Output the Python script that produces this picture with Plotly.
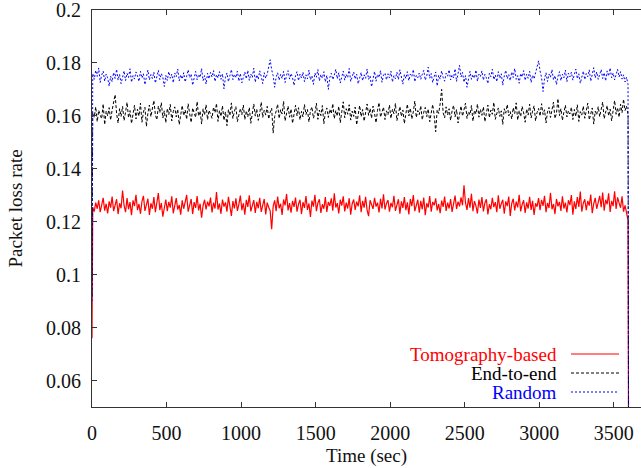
import plotly.graph_objects as go

# ---------------- data ----------------
times = [0] + list(range(5, 3600, 10)) + [3600]

tomography = [0.076,
    0.1255,0.1238,0.1272,0.1249,0.1281,0.1236,0.1264,0.1290,0.1242,0.1268,0.1231,0.1277,0.1253,0.1295,0.1240,0.1262,0.1285,0.1229,0.1270,0.1251,
    0.1318,0.1262,0.1236,0.1289,0.1247,0.1274,0.1225,0.1281,0.1259,0.1302,0.1244,0.1267,0.1230,0.1276,0.1298,0.1241,0.1263,0.1287,0.1226,0.1270,
    0.1249,0.1293,0.1236,0.1265,0.1308,0.1244,0.1271,0.1219,0.1262,0.1284,0.1240,0.1275,0.1253,0.1296,0.1232,0.1268,0.1289,0.1246,0.1263,0.1227,
    0.1281,0.1249,0.1270,0.1301,0.1238,0.1265,0.1286,0.1229,0.1274,0.1252,0.1297,0.1243,0.1268,0.1215,0.1261,0.1283,0.1247,0.1276,0.1258,0.1291,
    0.1235,0.1272,0.1250,0.1312,0.1246,0.1269,0.1230,0.1284,0.1257,0.1273,0.1238,0.1294,0.1263,0.1222,0.1278,0.1250,0.1288,0.1241,0.1266,0.1299,
    0.1244,0.1270,0.1227,0.1283,0.1256,0.1300,0.1239,0.1267,0.1282,0.1233,0.1275,0.1251,0.1290,0.1237,0.1264,0.1286,0.1228,0.1272,0.1255,0.1241,
    0.1172,0.1258,0.1281,0.1240,0.1295,0.1251,0.1268,0.1226,0.1284,0.1262,0.1305,0.1243,0.1270,0.1234,0.1279,0.1256,0.1291,0.1238,0.1266,0.1283,
    0.1229,0.1274,0.1252,0.1297,0.1245,0.1269,0.1218,0.1280,0.1257,0.1302,0.1240,0.1271,0.1285,0.1233,0.1266,0.1249,0.1293,0.1237,0.1275,0.1260,
    0.1288,0.1242,0.1307,0.1254,0.1270,0.1231,0.1283,0.1261,0.1296,0.1239,0.1272,0.1250,0.1289,0.1227,0.1268,0.1284,0.1245,0.1276,0.1258,0.1300,
    0.1236,0.1279,0.1253,0.1294,0.1244,0.1221,0.1281,0.1263,0.1248,0.1290,0.1257,0.1272,0.1235,0.1287,0.1250,0.1304,0.1246,0.1269,0.1282,0.1238,
    0.1271,0.1255,0.1298,0.1241,0.1266,0.1285,0.1230,0.1277,0.1252,0.1293,0.1244,0.1273,0.1228,0.1286,0.1259,0.1301,0.1240,0.1268,0.1283,0.1234,
    0.1279,0.1247,0.1291,0.1225,0.1270,0.1254,0.1297,0.1238,0.1275,0.1262,0.1288,0.1243,0.1267,0.1232,0.1280,0.1256,0.1295,0.1241,0.1272,0.1250,
    0.1286,0.1237,0.1270,0.1299,0.1248,0.1276,0.1258,0.1292,0.1262,0.1338,0.1271,0.1245,0.1289,0.1253,0.1306,0.1240,0.1278,0.1260,0.1231,0.1284,
    0.1252,0.1293,0.1239,0.1271,0.1285,0.1228,0.1266,0.1247,0.1290,0.1255,0.1274,0.1236,0.1300,0.1249,0.1268,0.1283,0.1230,0.1277,0.1259,0.1295,
    0.1222,0.1269,0.1287,0.1243,0.1276,0.1254,0.1302,0.1239,0.1265,0.1281,0.1233,0.1273,0.1250,0.1294,0.1245,0.1279,0.1226,0.1270,0.1257,0.1289,
    0.1244,0.1283,0.1260,0.1298,0.1236,0.1271,0.1252,0.1309,0.1247,0.1267,0.1229,0.1286,0.1258,0.1275,0.1241,0.1296,0.1250,0.1272,0.1235,0.1281,
    0.1263,0.1301,0.1227,0.1277,0.1248,0.1293,0.1256,0.1314,0.1238,0.1270,0.1285,0.1244,0.1279,0.1261,0.1303,0.1232,0.1268,0.1290,0.1249,0.1276,
    0.1298,0.1255,0.1310,0.1242,0.1283,0.1266,0.1307,0.1237,0.1279,0.1259,0.1315,0.1248,0.1292,0.1271,0.1253,0.1296,0.1238,0.1262,0.1224,0.1205,
    0.0]

end_to_end = [0.092,
    0.1612,0.1595,0.1634,0.1578,0.1621,0.1603,0.1589,0.1645,0.1567,0.1618,0.1600,0.1631,0.1584,0.1622,0.1657,0.1680,0.1609,0.1573,0.1627,0.1598,
    0.1636,0.1582,0.1614,0.1651,0.1593,0.1620,0.1571,0.1607,0.1640,0.1588,0.1625,0.1599,0.1648,0.1576,0.1615,0.1632,0.1560,0.1611,0.1641,0.1597,
    0.1623,0.1658,0.1604,0.1585,0.1637,0.1612,0.1650,0.1592,0.1619,0.1574,0.1628,0.1605,0.1643,0.1581,0.1616,0.1634,0.1596,0.1625,0.1567,0.1610,
    0.1639,0.1601,0.1622,0.1587,0.1646,0.1608,0.1575,0.1630,0.1613,0.1594,0.1654,0.1599,0.1618,0.1569,0.1627,0.1603,0.1642,0.1586,0.1621,0.1606,
    0.1591,0.1633,0.1612,0.1647,0.1579,0.1620,0.1598,0.1638,0.1583,0.1615,0.1563,0.1624,0.1601,0.1649,0.1590,0.1617,0.1635,0.1578,0.1611,0.1628,
    0.1604,0.1641,0.1586,0.1619,0.1596,0.1632,0.1572,0.1613,0.1645,0.1599,0.1626,0.1583,0.1608,0.1652,0.1594,0.1621,0.1603,0.1636,0.1588,0.1614,
    0.1629,0.1535,0.1597,0.1618,0.1644,0.1590,0.1623,0.1607,0.1655,0.1581,0.1612,0.1637,0.1595,0.1626,0.1572,0.1609,0.1640,0.1600,0.1631,0.1585,
    0.1617,0.1596,0.1643,0.1605,0.1624,0.1577,0.1619,0.1634,0.1591,0.1610,0.1648,0.1587,0.1622,0.1601,0.1639,0.1570,0.1614,0.1630,0.1594,0.1625,
    0.1608,0.1646,0.1589,0.1620,0.1599,0.1636,0.1574,0.1615,0.1653,0.1593,0.1627,0.1606,0.1642,0.1584,0.1618,0.1598,0.1633,0.1566,0.1612,0.1639,
    0.1597,0.1624,0.1580,0.1616,0.1645,0.1602,0.1628,0.1591,0.1637,0.1609,0.1574,0.1621,0.1650,0.1595,0.1613,0.1633,0.1586,0.1619,0.1604,0.1641,
    0.1590,0.1625,0.1608,0.1647,0.1582,0.1617,0.1635,0.1598,0.1622,0.1571,0.1611,0.1644,0.1600,0.1629,0.1588,0.1615,0.1656,0.1594,0.1620,0.1605,
    0.1638,0.1585,0.1614,0.1632,0.1597,0.1626,0.1578,0.1618,0.1643,0.1601,0.1540,0.1623,0.1609,0.1646,0.1700,0.1612,0.1592,0.1634,0.1603,0.1627,
    0.1583,0.1619,0.1640,0.1596,0.1624,0.1573,0.1613,0.1637,0.1599,0.1628,0.1648,0.1590,0.1616,0.1604,0.1639,0.1580,0.1621,0.1607,0.1645,0.1595,
    0.1625,0.1602,0.1634,0.1578,0.1617,0.1641,0.1593,0.1622,0.1606,0.1651,0.1587,0.1614,0.1630,0.1598,0.1619,0.1568,0.1627,0.1610,0.1643,0.1600,
    0.1616,0.1588,0.1631,0.1609,0.1649,0.1584,0.1620,0.1597,0.1636,0.1611,0.1576,0.1626,0.1603,0.1644,0.1592,0.1618,0.1638,0.1581,0.1613,0.1628,
    0.1599,0.1646,0.1605,0.1623,0.1573,0.1615,0.1632,0.1594,0.1621,0.1652,0.1590,0.1610,0.1665,0.1601,0.1627,0.1583,0.1614,0.1640,0.1596,0.1619,
    0.1607,0.1633,0.1586,0.1624,0.1598,0.1642,0.1579,0.1616,0.1603,0.1637,0.1591,0.1622,0.1648,0.1585,0.1611,0.1630,0.1569,0.1618,0.1604,0.1635,
    0.1597,0.1621,0.1652,0.1589,0.1614,0.1639,0.1600,0.1626,0.1581,0.1615,0.1658,0.1606,0.1631,0.1595,0.1644,0.1612,0.1663,0.1620,0.1637,0.1604,
    0.0]

random_sel = [0.090,
    0.1760,0.1738,0.1772,0.1749,0.1781,0.1726,0.1755,0.1769,0.1731,0.1758,0.1744,0.1712,0.1750,0.1729,0.1764,0.1741,0.1776,0.1735,0.1757,0.1722,
    0.1748,0.1770,0.1733,0.1761,0.1745,0.1778,0.1727,0.1752,0.1739,0.1766,0.1751,0.1730,0.1768,0.1743,0.1759,0.1718,0.1747,0.1773,0.1736,0.1756,
    0.1741,0.1765,0.1724,0.1754,0.1772,0.1737,0.1760,0.1746,0.1711,0.1753,0.1734,0.1767,0.1742,0.1758,0.1725,0.1762,0.1748,0.1777,0.1732,0.1755,
    0.1739,0.1763,0.1728,0.1750,0.1774,0.1744,0.1758,0.1716,0.1749,0.1768,0.1736,0.1757,0.1745,0.1779,0.1733,0.1752,0.1720,0.1761,0.1740,0.1764,
    0.1747,0.1771,0.1730,0.1756,0.1743,0.1767,0.1738,0.1759,0.1702,0.1746,0.1762,0.1729,0.1753,0.1775,0.1737,0.1757,0.1744,0.1769,0.1731,0.1760,
    0.1725,0.1751,0.1766,0.1740,0.1772,0.1734,0.1758,0.1745,0.1780,0.1727,0.1755,0.1738,0.1770,0.1749,0.1722,0.1763,0.1742,0.1757,0.1786,0.1812,
    0.1774,0.1752,0.1708,0.1746,0.1763,0.1735,0.1757,0.1741,0.1768,0.1726,0.1754,0.1771,0.1739,0.1760,0.1744,0.1715,0.1752,0.1767,0.1733,0.1758,
    0.1743,0.1765,0.1729,0.1755,0.1740,0.1773,0.1736,0.1751,0.1719,0.1762,0.1746,0.1775,0.1732,0.1756,0.1742,0.1767,0.1728,0.1753,0.1700,0.1745,
    0.1761,0.1737,0.1754,0.1776,0.1740,0.1763,0.1724,0.1750,0.1769,0.1735,0.1757,0.1744,0.1779,0.1730,0.1752,0.1766,0.1739,0.1758,0.1721,0.1748,
    0.1764,0.1733,0.1755,0.1742,0.1777,0.1738,0.1751,0.1710,0.1747,0.1768,0.1731,0.1757,0.1745,0.1771,0.1727,0.1754,0.1762,0.1736,0.1759,0.1743,
    0.1769,0.1728,0.1752,0.1740,0.1765,0.1737,0.1774,0.1746,0.1720,0.1756,0.1741,0.1767,0.1733,0.1758,0.1749,0.1775,0.1729,0.1753,0.1744,0.1762,
    0.1738,0.1757,0.1772,0.1735,0.1751,0.1784,0.1742,0.1760,0.1726,0.1748,0.1766,0.1713,0.1753,0.1739,0.1770,0.1745,0.1731,0.1761,0.1750,0.1774,
    0.1736,0.1755,0.1743,0.1778,0.1730,0.1759,0.1791,0.1747,0.1764,0.1727,0.1752,0.1708,0.1745,0.1768,0.1738,0.1756,0.1742,0.1773,0.1731,0.1758,
    0.1749,0.1770,0.1735,0.1757,0.1744,0.1722,0.1761,0.1748,0.1776,0.1737,0.1754,0.1729,0.1767,0.1742,0.1759,0.1716,0.1751,0.1772,0.1740,0.1756,
    0.1733,0.1766,0.1745,0.1779,0.1738,0.1752,0.1723,0.1760,0.1747,0.1771,0.1734,0.1757,0.1742,0.1768,0.1726,0.1754,0.1740,0.1765,0.1782,0.1808,
    0.1770,0.1745,0.1692,0.1741,0.1763,0.1730,0.1758,0.1746,0.1775,0.1736,0.1752,0.1718,0.1749,0.1767,0.1733,0.1757,0.1744,0.1773,0.1729,0.1761,
    0.1747,0.1765,0.1735,0.1756,0.1777,0.1740,0.1759,0.1723,0.1751,0.1769,0.1737,0.1760,0.1748,0.1774,0.1731,0.1755,0.1782,0.1743,0.1766,0.1738,
    0.1757,0.1775,0.1741,0.1763,0.1732,0.1770,0.1750,0.1781,0.1744,0.1762,0.1736,0.1758,0.1776,0.1747,0.1767,0.1739,0.1755,0.1728,0.1746,0.1719,
    0.0]

x_ticks = [0, 500, 1000, 1500, 2000, 2500, 3000, 3500]
y_ticks = [0.06, 0.08, 0.1, 0.12, 0.14, 0.16, 0.18, 0.2]
y_ticklabels = ["0.06", "0.08", "0.1", "0.12", "0.14", "0.16", "0.18", "0.2"]

series_names = ["Tomography-based", "End-to-end", "Random"]
series_colors = ["#ff0000", "#000000", "#0000ff"]
series_dash = ["solid", "3px,2px", "2px,2px"]
series_width = [1.2, 1.0, 1.0]
series_values = [tomography, end_to_end, random_sel]

FONT = "Liberation Serif"

fig = go.Figure()
for name, vals, col, dash, w in zip(series_names, series_values, series_colors,
                                    series_dash, series_width):
    fig.add_trace(go.Scatter(x=times, y=vals, mode="lines", name=name,
                             line=dict(color=col, width=w, dash=dash),
                             showlegend=False))

W, H = 641, 468
L, R, T, B = 92, 0, 10, 61
pw, ph = W - L - R, H - T - B

def px(x):
    return (x - L) / pw

def py(y):
    return (H - B - y) / ph

# manual legend: text on the left, line sample on the right
rows_y = [354, 373, 392]
for name, col, dash, w, yy in zip(series_names, series_colors, series_dash,
                                  series_width, rows_y):
    fig.add_annotation(x=px(559), y=py(yy), xref="paper", yref="paper",
                       text=name, showarrow=False, xanchor="right",
                       yanchor="middle", font=dict(family=FONT, size=19, color=col))
    fig.add_shape(type="line", xref="paper", yref="paper",
                  x0=px(571), x1=px(619), y0=py(yy), y1=py(yy),
                  line=dict(color=col, width=w, dash=dash))

axis_common = dict(
    showgrid=False, zeroline=False, ticks="inside", ticklen=5,
    tickcolor="#333", tickwidth=1,
    tickfont=dict(family=FONT, size=20, color="#111"),
    title_font=dict(family=FONT, size=19, color="#111"),
)

fig.update_layout(
    width=W, height=H,
    margin=dict(l=L, r=R, t=T, b=B),
    paper_bgcolor="white", plot_bgcolor="white",
    font=dict(family=FONT),
    xaxis=dict(range=[0, 3682], tickvals=x_ticks, showline=True,
               linecolor="#333", linewidth=1, mirror="ticks",
               ticklabelstandoff=8, ticklabeloverflow="allow",
               title=dict(text="Time (sec)", standoff=5), **axis_common),
    yaxis=dict(range=[0.05, 0.2], tickvals=y_ticks, ticktext=y_ticklabels,
               showline=True, linecolor="#333", linewidth=1,
               title=dict(text="Packet loss rate", standoff=18),
               ticklabelstandoff=6, ticklabeloverflow="allow", **axis_common),
    yaxis2=dict(range=[0.05, 0.2], tickvals=y_ticks, overlaying="y",
                side="right", showline=False, showticklabels=False,
                showgrid=False, zeroline=False, ticks="inside", ticklen=5,
                tickcolor="#333", tickwidth=1),
    showlegend=False,
)

fig.write_html("out.html")
